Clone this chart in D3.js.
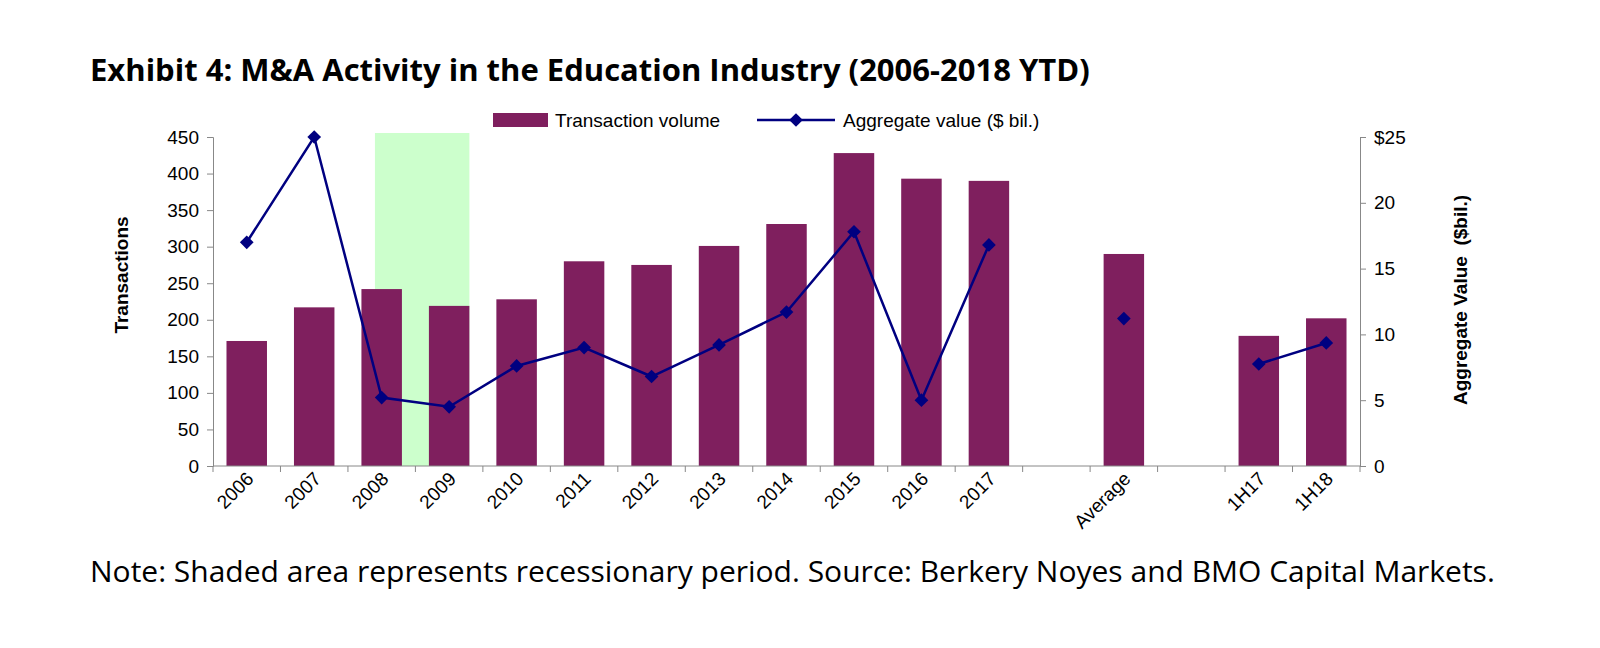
<!DOCTYPE html>
<html><head><meta charset="utf-8">
<script src="https://cdn.jsdelivr.net/npm/d3@7"></script>
<style>
html,body{margin:0;background:#fff;overflow:hidden}
svg{display:block}
text{font-family:"Liberation Sans",Arial,sans-serif}
</style></head>
<body><svg id="chart" width="1600" height="648"></svg>
<script>
// slots (blank ones keep the gaps of the original)
const categories = ["2006","2007","2008","2009","2010","2011","2012","2013","2014","2015","2016","2017","gap1","Average","gap2","1H17","1H18"];
const volume = [171,217,242,219,228,280,275,301,331,428,393,390,null,290,null,178,202];
const value = [17.0,25.0,5.2,4.5,7.6,9.0,6.8,9.2,11.7,17.8,5.0,16.8,null,11.2,null,7.75,9.35];
const lineSegments = [[0,11],[15,16]];
const leftTicks = [0,50,100,150,200,250,300,350,400,450];
const rightTicks = [0,5,10,15,20,25];

const svg = d3.select("#chart");
const x0 = 213, x1 = 1360, yTop = 137, yBot = 466;
const purple = "#7f1f5e", navy = "#000080";

const x = d3.scaleBand().domain(categories).range([x0, x1]).paddingInner(0.4).paddingOuter(0.2);
const xStep = d3.scaleBand().domain(categories).range([x0, x1]);
const yL = d3.scaleLinear().domain([0,450]).range([yBot, yTop]);
const yR = d3.scaleLinear().domain([0,25]).range([yBot, yTop]);

// recession shading
svg.append("rect")
	.attr("x", xStep("2008") + xStep.step()*0.4)
	.attr("width", xStep.step()*1.4)
	.attr("y", yTop - 4).attr("height", yBot - yTop + 4)
	.attr("fill", "#ccffcc");

// bars
svg.append("g").selectAll("rect")
	.data(categories.map((c, i) => ({c, v: volume[i]})).filter((d) => d.v != null))
	.enter().append("rect")
	.attr("x", (d) => x(d.c))
	.attr("width", x.bandwidth())
	.attr("y", (d) => yL(d.v))
	.attr("height", (d) => yBot - yL(d.v))
	.attr("fill", purple);

// axes
const axL = svg.append("g").attr("transform", `translate(${x0},0)`)
	.call(d3.axisLeft(yL).tickValues(leftTicks).tickSize(6).tickPadding(8));
const axR = svg.append("g").attr("transform", `translate(${x1},0)`)
	.call(d3.axisRight(yR).tickValues(rightTicks).tickSize(6).tickPadding(8)
		.tickFormat((d) => d === 25 ? "$25" : d));
[axL, axR].forEach((a) => {
	a.selectAll("text").attr("font-size", 19).attr("fill", "#000");
	a.selectAll("path,line").attr("stroke", "#888");
});
svg.append("line").attr("x1", x0).attr("x2", x1).attr("y1", yBot).attr("y2", yBot).attr("stroke", "#888");
svg.append("g").selectAll("line")
	.data(d3.range(categories.length + 1))
	.enter().append("line")
	.attr("x1", (i) => x0 + i * xStep.step()).attr("x2", (i) => x0 + i * xStep.step())
	.attr("y1", yBot).attr("y2", yBot + 6).attr("stroke", "#888");

// x labels
svg.append("g").selectAll("text")
	.data(categories.filter((c) => !c.startsWith("gap")))
	.enter().append("text")
	.attr("transform", (c) => `translate(${xStep(c) + xStep.step()/2 + 8},${yBot + 14}) rotate(-45)`)
	.attr("text-anchor", "end").attr("font-size", 19)
	.text((c) => c);

// line
const line = d3.line().x((i) => x(categories[i]) + x.bandwidth()/2).y((i) => yR(value[i]));
lineSegments.forEach(([a, b]) => {
	svg.append("path").datum(d3.range(a, b + 1)).attr("d", line)
		.attr("fill", "none").attr("stroke", navy).attr("stroke-width", 2.5);
});
svg.append("g").selectAll("path")
	.data(value.map((v, i) => ({v, i})).filter((d) => d.v != null))
	.enter().append("path")
	.attr("d", d3.symbol(d3.symbolDiamond2, 120))
	.attr("transform", (d) => `translate(${x(categories[d.i]) + x.bandwidth()/2},${yR(d.v)})`)
	.attr("fill", navy);

// axis titles
svg.append("text").attr("transform", "translate(128,275) rotate(-90)")
	.attr("text-anchor", "middle").attr("font-size", 19).attr("font-weight", "bold").text("Transactions");
svg.append("text").attr("transform", "translate(1467,300) rotate(-90)")
	.attr("text-anchor", "middle").attr("font-size", 19).attr("font-weight", "bold")
	.attr("xml:space", "preserve").text("Aggregate Value  ($bil.)");

// legend
svg.append("rect").attr("x", 493).attr("y", 113).attr("width", 55).attr("height", 14).attr("fill", purple);
svg.append("text").attr("x", 555).attr("y", 127).attr("font-size", 19).text("Transaction volume");
svg.append("line").attr("x1", 757).attr("x2", 835).attr("y1", 120).attr("y2", 120).attr("stroke", navy).attr("stroke-width", 2.5);
svg.append("path").attr("d", d3.symbol(d3.symbolDiamond2, 120)).attr("transform", "translate(796,120)").attr("fill", navy);
svg.append("text").attr("x", 843).attr("y", 127).attr("font-size", 19).text("Aggregate value ($ bil.)");

// title and note
svg.append("text").attr("x", 90).attr("y", 81).attr("font-size", 31).attr("font-weight", "bold")
	.style("font-family", "'Open Sans',sans-serif").text("Exhibit 4: M&A Activity in the Education Industry (2006-2018 YTD)");
svg.append("text").attr("x", 90).attr("y", 582).attr("font-size", 30)
	.style("font-family", "'Open Sans',sans-serif")
	.text("Note: Shaded area represents recessionary period. Source: Berkery Noyes and BMO Capital Markets.");
</script></body></html>
